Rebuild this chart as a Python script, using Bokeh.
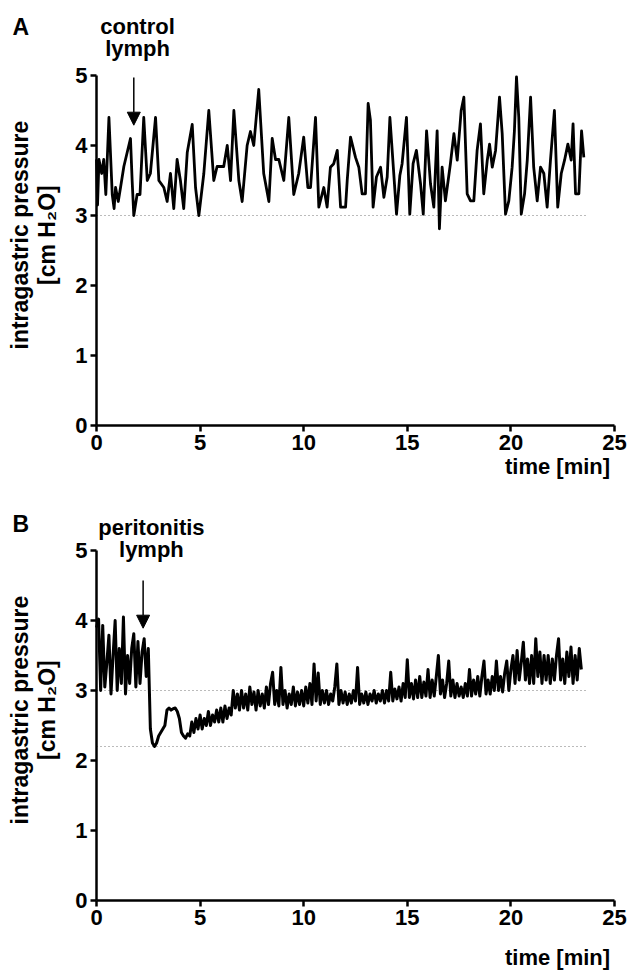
import numpy as np
from bokeh.plotting import figure
from bokeh.layouts import column
from bokeh.models import FixedTicker, Label, Arrow, NormalHead, Range1d
from bokeh.embed import file_html
from bokeh.resources import INLINE

# ---------------- data ----------------
x_ticks = [0, 5, 10, 15, 20, 25]
y_ticks = [0, 1, 2, 3, 4, 5]

# Panel A: control lymph (time in min, pressure in cm H2O)
a_time = [0.00, 0.05, 0.12, 0.25, 0.35, 0.45, 0.60, 0.76, 0.85, 0.92,
          1.05, 1.16, 1.32, 1.48, 1.64, 1.72, 1.80, 1.96, 2.10, 2.28,
          2.45, 2.60, 2.85, 3.01, 3.25, 3.41, 3.57, 3.73, 3.89, 4.05,
          4.21, 4.38, 4.62, 4.78, 4.94, 5.18, 5.42, 5.66, 5.82, 6.14,
          6.31, 6.47, 6.63, 6.87, 7.03, 7.27, 7.43, 7.59, 7.83, 8.07,
          8.32, 8.48, 8.64, 8.80, 9.04, 9.28, 9.52, 9.76, 10.00, 10.20,
          10.33, 10.57, 10.73, 10.97, 11.13, 11.29, 11.45, 11.62, 11.78, 12.02,
          12.10, 12.26, 12.50, 12.66, 12.82, 12.98, 13.11, 13.22, 13.35, 13.51,
          13.71, 13.87, 14.03, 14.16, 14.27, 14.48, 14.64, 14.75, 14.96, 15.12,
          15.28, 15.44, 15.64, 15.77, 15.93, 16.12, 16.28, 16.44, 16.55, 16.68,
          16.84, 17.08, 17.25, 17.41, 17.60, 17.73, 17.89, 18.05, 18.21, 18.37,
          18.53, 18.69, 18.86, 18.97, 19.10, 19.26, 19.45, 19.58, 19.74, 19.90,
          20.06, 20.17, 20.27, 20.38, 20.50, 20.66, 20.79, 20.95, 21.10, 21.27,
          21.43, 21.59, 21.75, 21.91, 22.10, 22.26, 22.43, 22.59, 22.75, 22.91,
          23.00, 23.12, 23.28, 23.41, 23.52]
a_value = [3.80, 3.15, 3.80, 3.60, 3.80, 3.30, 4.40, 3.30, 3.10, 3.40,
           3.20, 3.40, 3.70, 3.90, 4.10, 3.50, 3.00, 3.30, 3.30, 4.40,
           3.50, 3.60, 4.40, 3.50, 3.40, 3.20, 3.60, 3.10, 3.80, 3.50,
           3.10, 3.90, 4.30, 3.40, 3.00, 3.60, 4.50, 3.50, 3.70, 3.70,
           4.00, 3.50, 4.50, 3.50, 3.20, 4.00, 4.20, 4.00, 4.80, 3.60,
           3.20, 4.10, 3.80, 3.80, 3.50, 4.40, 3.30, 3.60, 4.12, 3.40,
           3.40, 4.40, 3.12, 3.40, 3.12, 3.69, 3.74, 3.93, 3.12, 3.12,
           3.50, 4.12, 3.83, 3.69, 3.31, 3.31, 4.60, 4.36, 3.12, 3.55,
           3.69, 3.26, 3.55, 4.40, 3.93, 3.02, 3.57, 3.74, 4.40, 3.02,
           3.74, 3.93, 3.45, 3.02, 4.21, 3.45, 3.12, 4.21, 2.81, 3.69,
           3.21, 3.74, 4.17, 3.79, 4.50, 4.69, 3.31, 3.21, 3.21, 3.93,
           4.31, 3.31, 3.79, 4.02, 3.69, 3.93, 4.69, 4.17, 3.02, 3.21,
           3.69, 4.21, 4.98, 4.40, 3.02, 3.31, 3.79, 4.69, 3.69, 3.21,
           3.69, 3.60, 3.12, 3.79, 4.50, 3.12, 3.60, 3.79, 4.02, 3.79,
           4.31, 3.31, 3.31, 4.21, 3.83]

# Panel B: peritonitis lymph, one reading every 0.1 min
b_dt = 0.1
b_value = [3.90, 4.02, 3.00, 3.93, 3.05, 3.40, 3.79, 2.95, 3.50, 4.00,
           3.00, 3.60, 3.10, 4.05, 2.95, 3.50, 3.10, 3.60, 3.81, 3.05,
           3.70, 3.10, 3.55, 3.74, 3.20, 3.60, 2.45, 2.25, 2.20, 2.25,
           2.35, 2.40, 2.45, 2.50, 2.72, 2.75, 2.72, 2.74, 2.75, 2.70,
           2.60, 2.40, 2.35, 2.32, 2.38, 2.35, 2.55, 2.40, 2.60, 2.45,
           2.65, 2.45, 2.60, 2.50, 2.70, 2.50, 2.65, 2.55, 2.72, 2.55,
           2.75, 2.55, 2.78, 2.60, 2.75, 2.65, 3.00, 2.75, 2.95, 2.72,
           3.00, 2.75, 2.95, 2.72, 3.05, 2.80, 2.98, 2.72, 3.00, 2.78,
           2.95, 2.75, 3.05, 2.80, 3.10, 3.26, 2.80, 3.00, 2.78, 3.33,
           2.80, 3.00, 2.75, 2.95, 2.80, 3.05, 2.78, 2.98, 2.80, 3.00,
           2.78, 3.05, 2.82, 3.10, 2.80, 3.38, 2.85, 3.25, 2.80, 3.00,
           2.82, 3.00, 2.80, 2.95, 2.85, 3.05, 3.38, 2.80, 3.00, 2.82,
           2.98, 2.80, 2.95, 2.82, 3.00, 2.85, 3.33, 2.80, 2.95, 2.82,
           2.98, 2.80, 2.95, 2.85, 3.00, 2.82, 2.95, 2.85, 3.00, 2.82,
           3.00, 2.85, 3.26, 2.85, 3.02, 2.88, 3.05, 2.85, 3.10, 2.90,
           3.44, 2.90, 3.10, 2.88, 3.15, 2.90, 3.20, 2.90, 3.12, 2.92,
           3.30, 2.90, 3.15, 2.92, 3.20, 3.50, 2.95, 3.15, 2.90, 3.10,
           3.42, 2.92, 3.15, 2.90, 3.10, 2.92, 3.05, 2.90, 3.10, 2.92,
           3.30, 2.92, 3.15, 2.95, 3.20, 2.92, 3.20, 3.42, 2.95, 3.15,
           2.95, 3.20, 3.00, 3.42, 3.00, 3.20, 2.98, 3.25, 3.42, 3.00,
           3.30, 3.50, 3.10, 3.57, 3.15, 3.40, 3.69, 3.15, 3.45, 3.10,
           3.50, 3.10, 3.74, 3.20, 3.55, 3.10, 3.50, 3.15, 3.50, 3.10,
           3.45, 3.15, 3.50, 3.74, 3.15, 3.45, 3.10, 3.55, 3.20, 3.62,
           3.10, 3.50, 3.15, 3.60, 3.30]
b_time = [round(i * b_dt, 2) for i in range(len(b_value))]

# dotted reference levels
a_ref_levels = [3.0]
b_ref_levels = [3.0, 2.2]
ref_end = 23.7

# arrow positions (time of lymph injection)
a_arrow_t = 1.8
b_arrow_t = 2.25

assert len(a_time) == len(a_value)

FONT = "Liberation Sans"
PX_PER_MIN = 20.72
PX_PER_UNIT = 70.0


def make_panel(height, frame_bottom_px):
    # whole canvas is the frame; axes sit at x=0 / y=0 via fixed_location
    x0 = -96 / PX_PER_MIN
    x1 = (632 - 96) / PX_PER_MIN
    y0 = -(height - frame_bottom_px) / PX_PER_UNIT
    y1 = frame_bottom_px / PX_PER_UNIT
    p = figure(width=632, height=height,
               x_range=Range1d(x0, x1), y_range=Range1d(y0, y1),
               output_backend="svg", toolbar_location=None,
               min_border=0, min_border_left=0, min_border_right=0,
               min_border_top=0, min_border_bottom=0)
    p.grid.visible = False
    p.outline_line_color = None
    p.border_fill_color = "white"
    p.xaxis.ticker = FixedTicker(ticks=x_ticks)
    p.yaxis.ticker = FixedTicker(ticks=y_ticks)
    p.xaxis.fixed_location = 0
    p.yaxis.fixed_location = 0
    p.xaxis.bounds = (0, 25)
    p.yaxis.bounds = (0, 5)
    for ax in (p.xaxis, p.yaxis):
        ax.axis_line_width = 2.5
        ax.axis_line_color = "black"
        ax.major_tick_line_width = 2.5
        ax.major_tick_line_color = "black"
        ax.major_tick_out = 6
        ax.major_tick_in = 0
        ax.minor_tick_line_color = None
        ax.major_label_text_font = FONT
        ax.major_label_text_font_size = "22px"
        ax.major_label_text_font_style = "bold"
        ax.major_label_text_color = "black"
        ax.major_label_standoff = 3
    return p


def txt(p, x, y, text, size="22px", align="center", baseline="alphabetic", angle=0.0):
    p.add_layout(Label(x=x, y=y, text=text, text_font=FONT, text_font_size=size,
                       text_font_style="bold", text_color="black",
                       text_align=align, text_baseline=baseline, angle=angle))


# ---------------- Panel A ----------------
pa = make_panel(505, 425)
for lvl in a_ref_levels:
    pa.line([0, ref_end], [lvl, lvl], line_color="#777777", line_width=1, line_dash="1 3")
pa.line(a_time, a_value, line_color="black", line_width=2.8, line_join="round")
pa.add_layout(Arrow(end=NormalHead(size=13, fill_color="black", line_color="black"),
                    x_start=a_arrow_t, y_start=4.97, x_end=a_arrow_t, y_end=4.29,
                    line_width=1.5, line_color="black"))
txt(pa, -4.05, 5.70, "A", size="23px", align="left")
txt(pa, 1.98, 5.70, "control")
txt(pa, 1.98, 5.39, "lymph")
txt(pa, 22.25, -0.59, "time [min]")
txt(pa, -3.7, 2.72, "intragastric pressure", size="23px", baseline="middle", angle=np.pi / 2)
txt(pa, -2.4, 2.72, "[cm H\u2082O]", size="23px", baseline="middle", angle=np.pi / 2)

# ---------------- Panel B ----------------
pb = make_panel(467, 395)
for lvl in b_ref_levels:
    pb.line([0, ref_end], [lvl, lvl], line_color="#777777", line_width=1, line_dash="1 3")
pb.line(b_time, b_value, line_color="black", line_width=3.0, line_join="round")
pb.add_layout(Arrow(end=NormalHead(size=13, fill_color="black", line_color="black"),
                    x_start=b_arrow_t, y_start=4.57, x_end=b_arrow_t, y_end=3.89,
                    line_width=1.5, line_color="black"))
txt(pb, -4.05, 5.38, "B", size="23px", align="left")
txt(pb, 2.65, 5.33, "peritonitis")
txt(pb, 2.65, 5.02, "lymph")
txt(pb, 22.25, -0.81, "time [min]")
txt(pb, -3.7, 2.72, "intragastric pressure", size="23px", baseline="middle", angle=np.pi / 2)
txt(pb, -2.4, 2.72, "[cm H\u2082O]", size="23px", baseline="middle", angle=np.pi / 2)

layout = column(pa, pb, spacing=0)
open("out.html", "w").write(file_html(layout, INLINE))
